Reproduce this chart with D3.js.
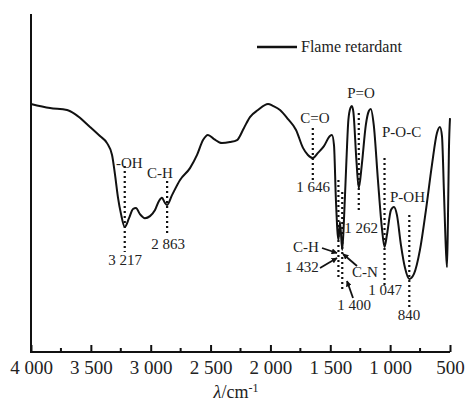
<!DOCTYPE html>
<html>
<head>
<meta charset="utf-8">
<script src="https://cdn.jsdelivr.net/npm/d3@7"></script>
<style>
  body { margin: 0; background: #fff; }
  text { font-family: "Liberation Serif", "Times New Roman", serif; fill: #222; }
</style>
</head>
<body>
<div id="chart"></div>
<script>
const width = 467;
const height = 408;

// spectrum (wavenumber, transmittance in arbitrary %)
const wavenumber = [4000, 3841, 3699, 3632, 3507, 3424, 3365, 3323, 3298, 3273, 3248, 3217, 3181, 3148, 3123, 3090,
    3048, 3006, 2964, 2931, 2906, 2881, 2863, 2822, 2755, 2672, 2613, 2563, 2522, 2471, 2405, 2338, 2279, 2221,
    2171, 2104, 2020, 1979, 1920, 1853, 1786, 1728, 1687, 1646, 1603, 1553, 1503, 1486, 1469, 1453, 1432, 1419,
    1400, 1384, 1365, 1349, 1332, 1320, 1307, 1282, 1262, 1237, 1203, 1178, 1162, 1137, 1102, 1069, 1047, 1027,
    993, 968, 943, 910, 876, 840, 801, 751, 701, 651, 609, 584, 567, 551, 534, 525, 517, 509, 500];
const transmittance = [73.4, 72.2, 71.6, 70.4, 66.6, 63.9, 61.8, 58.3, 52.4, 45.6, 40.8, 37.0, 39.6, 42.3, 42.6, 40.8,
    39.6, 40.2, 42.0, 44.7, 45.6, 44.1, 43.5, 46.4, 50.9, 54.4, 58.3, 62.7, 64.2, 63.0, 61.8, 62.1, 62.7, 66.3,
    69.5, 71.6, 73.4, 72.8, 71.6, 68.9, 65.7, 60.4, 58.3, 57.4, 58.9, 60.9, 63.9, 64.2, 61.2, 45.0, 33.1, 38.5,
    30.2, 40.5, 56.8, 68.6, 72.2, 72.8, 71.0, 56.8, 48.5, 55.3, 67.2, 71.3, 71.9, 67.2, 50.9, 36.7, 31.1, 34.6,
    42.0, 42.9, 40.5, 31.7, 24.9, 21.6, 23.1, 30.2, 42.0, 55.3, 64.8, 66.6, 63.9, 47.9, 30.2, 25.1, 39.6, 59.8, 69.2];

const xTicks = [4000, 3500, 3000, 2500, 2000, 1500, 1000, 500];
const xMinorTicks = [3750, 3250, 2750, 2250, 1750, 1250, 750];

// peak markers: wavenumber, number label, group label
const peakWn = [3217, 2863, 1646, 1432, 1400, 1262, 1047, 840];
const peakNum = ["3 217", "2 863", "1 646", "1 432", "1 400", "1 262", "1 047", "840"];
const bandLabels = ["-OH", "C-H", "C=O", "C-H", "C-N", "P=O", "P-O-C", "P-OH"];

const seriesName = "Flame retardant";

const data = wavenumber.map((w, i) => ({ wn: w, t: transmittance[i] }));

// scales
const xScale = d3.scaleLinear().domain([4000, 500]).range([31, 450]);
const yScale = d3.scaleLinear().domain([0, 100]).range([352, 14]);

const svg = d3.select("#chart").append("svg").attr("width", width).attr("height", height);

svg.append("defs").append("marker")
    .attr("id", "arr")
    .attr("viewBox", "0 0 10 10")
    .attr("refX", 9).attr("refY", 5)
    .attr("markerWidth", 6).attr("markerHeight", 6)
    .attr("markerUnits", "userSpaceOnUse")
    .attr("orient", "auto")
    .append("path").attr("d", "M0,0L10,5L0,10z").attr("fill", "#111");

// axes
const xAxis = d3.axisBottom(xScale).tickValues(xTicks).tickSize(-7).tickPadding(9)
    .tickFormat(d => d >= 1000 ? Math.floor(d / 1000) + " " + d3.format("03d")(d % 1000) : d);

const gx = svg.append("g")
    .attr("transform", `translate(0,${yScale(0)})`)
    .call(xAxis);
gx.select(".domain").attr("stroke", "#111").attr("stroke-width", 2).attr("d", `M${xScale(4000)},0H${xScale(500)}`);
gx.selectAll(".tick line").attr("stroke", "#111").attr("stroke-width", 2);
gx.selectAll(".tick text").attr("font-size", 19).attr("font-family", "Liberation Serif").attr("fill", "#222");

svg.append("g")
    .selectAll("line")
    .data(xMinorTicks)
    .join("line")
    .attr("x1", d => xScale(d)).attr("x2", d => xScale(d))
    .attr("y1", yScale(0)).attr("y2", yScale(0) - 4)
    .attr("stroke", "#111").attr("stroke-width", 2);

// left axis line only
svg.append("line")
    .attr("x1", xScale(4000)).attr("x2", xScale(4000))
    .attr("y1", yScale(100)).attr("y2", yScale(0) + 1)
    .attr("stroke", "#111").attr("stroke-width", 2);

// axis title
const title = svg.append("text")
    .attr("x", 236).attr("y", 398)
    .attr("text-anchor", "middle")
    .attr("font-size", 18);
title.append("tspan").attr("font-style", "italic").text("λ");
title.append("tspan").text("/cm");
title.append("tspan").attr("dy", -6).attr("font-size", 12).text("-1");

// spectrum
const line = d3.line()
    .x(d => xScale(d.wn))
    .y(d => yScale(d.t))
    .curve(d3.curveMonotoneX);

svg.append("path")
    .datum(data.slice().reverse())
    .attr("d", line)
    .attr("fill", "none")
    .attr("stroke", "#111")
    .attr("stroke-width", 2);

// dotted markers (y extents in px)
const dotSpan = { 3217: [166, 252], 2863: [181, 236], 1646: [128, 180], 1432: [180, 278],
    1400: [192, 290], 1262: [113, 212], 1047: [158, 285], 840: [215, 308] };

svg.append("g")
    .selectAll("line")
    .data(peakWn)
    .join("line")
    .attr("x1", d => xScale(d)).attr("x2", d => xScale(d))
    .attr("y1", d => dotSpan[d][0]).attr("y2", d => dotSpan[d][1])
    .attr("stroke", "#111").attr("stroke-width", 2.2)
    .attr("stroke-dasharray", "2,3");

// number labels
const numPos = [[125, 265, "middle"], [168, 249, "middle"], [313, 192, "middle"], [285, 272, "start"],
    [354, 310, "middle"], [361, 233, "middle"], [385, 295, "middle"], [409, 320, "middle"]];

svg.append("g")
    .selectAll("text")
    .data(peakNum)
    .join("text")
    .attr("x", (d, i) => numPos[i][0])
    .attr("y", (d, i) => numPos[i][1])
    .attr("text-anchor", (d, i) => numPos[i][2])
    .attr("font-size", 15)
    .text(d => d);

// band labels
const bandPos = [[116, 168, "start"], [160, 178, "middle"], [315, 123, "middle"], [293, 252, "start"],
    [352, 277, "start"], [361, 98, "middle"], [382, 137, "start"], [390, 202, "start"]];

svg.append("g")
    .selectAll("text")
    .data(bandLabels)
    .join("text")
    .attr("x", (d, i) => bandPos[i][0])
    .attr("y", (d, i) => bandPos[i][1])
    .attr("text-anchor", (d, i) => bandPos[i][2])
    .attr("font-size", 15)
    .text(d => d);

// arrows near 1 432 / 1 400
const arrows = [[322, 248, 337, 253], [320, 268, 337, 258], [357, 266, 343, 254], [353, 298, 347, 281]];
svg.append("g")
    .selectAll("line")
    .data(arrows)
    .join("line")
    .attr("x1", d => d[0]).attr("y1", d => d[1])
    .attr("x2", d => d[2]).attr("y2", d => d[3])
    .attr("stroke", "#111").attr("stroke-width", 1.8)
    .attr("marker-end", "url(#arr)");

// legend
svg.append("line")
    .attr("x1", 257).attr("x2", 297).attr("y1", 47).attr("y2", 47)
    .attr("stroke", "#111").attr("stroke-width", 2.5);
svg.append("text")
    .attr("x", 301).attr("y", 52)
    .attr("font-size", 16)
    .text(seriesName);
</script>
</body>
</html>
